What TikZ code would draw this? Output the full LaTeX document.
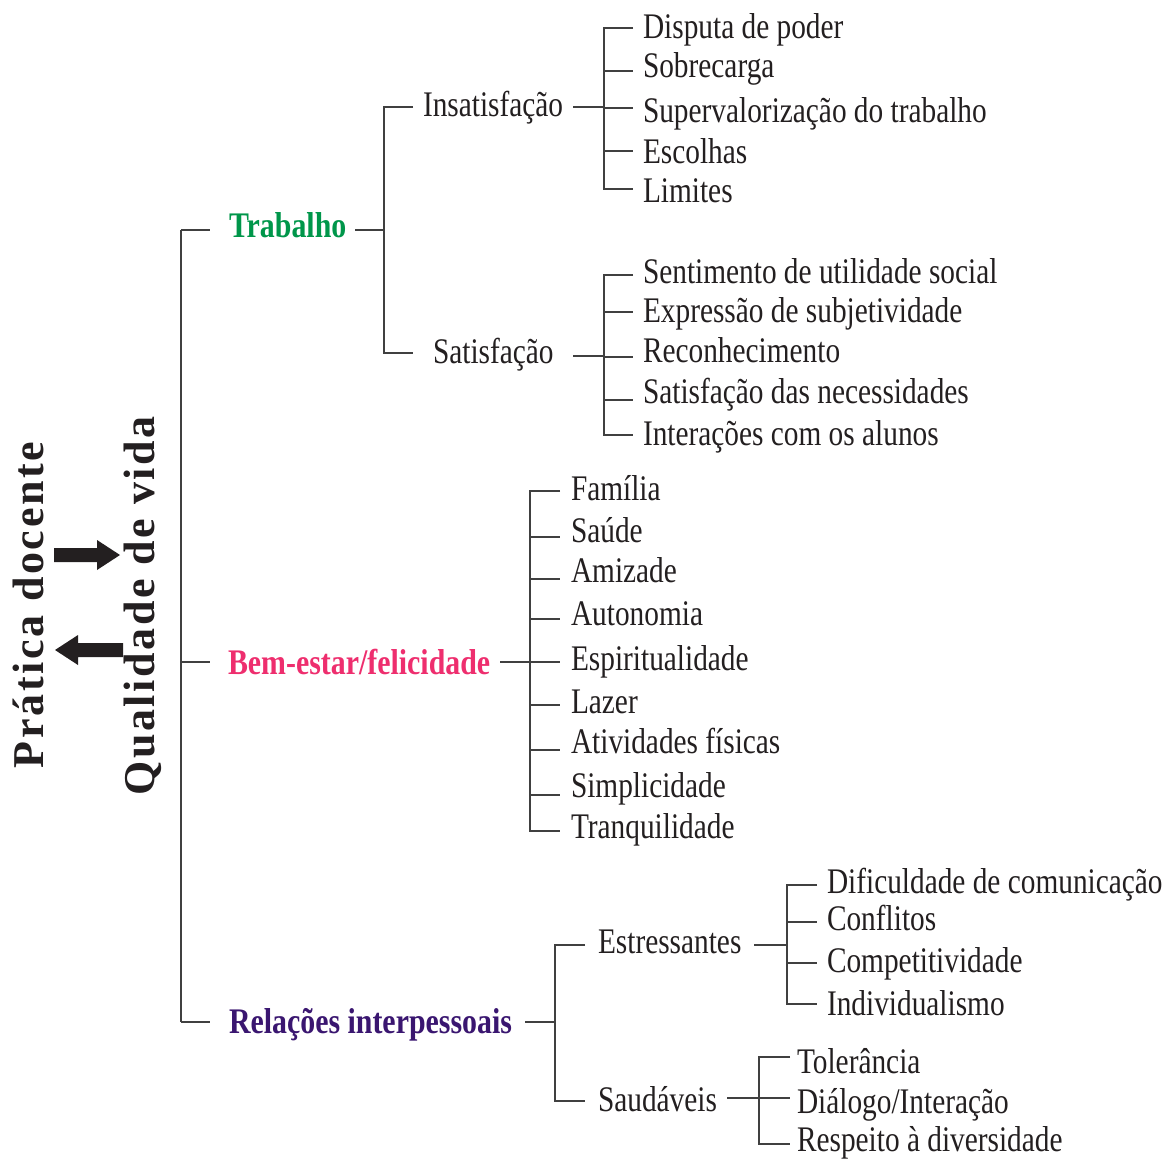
\documentclass[tikz,border=0pt]{standalone}
\usepackage{fontspec}
\setmainfont{Liberation Serif}[FakeStretch=0.815, BoldFeatures={FakeStretch=0.83}]
\newfontfamily\rotfont{Liberation Serif}[LetterSpace=6]
\definecolor{txt}{HTML}{231F20}
\definecolor{lncol}{HTML}{404040}
\definecolor{verde}{HTML}{00964A}
\definecolor{rosa}{HTML}{EE2E6E}
\definecolor{roxo}{HTML}{3A1670}
\tikzset{
  lbl/.style={anchor=base west, inner sep=0pt, outer sep=0pt, text=txt, font=\fontsize{36}{40}\selectfont},
  main/.style={lbl, font=\fontsize{36}{40}\selectfont\bfseries},
  rot/.style={anchor=base, rotate=90, inner sep=0pt, text=txt, font=\rotfont\fontsize{44}{48}\selectfont\bfseries},
  ln/.style={draw=lncol, line width=1.4pt},
  arr/.style={fill=txt, draw=none}
}
\begin{document}
\begin{tikzpicture}[x=1pt,y=-1pt]
\useasboundingbox (0,0) rectangle (1165,1160);
% rotated titles
\node[rot] (pd) at (43,605) {Prática docente};
\node[rot] (qv) at (154,606) {Qualidade de vida};
% arrows
\fill[arr] (54,548) -- (97,548) -- (97,540) -- (120,555) -- (97,570) -- (97,562) -- (54,562) -- cycle;
\fill[arr] (123,643) -- (78,643) -- (78,635) -- (55,650) -- (78,665) -- (78,657) -- (123,657) -- cycle;
% level 1
\node[main, text=verde] (trab) at (229,237) {Trabalho};
\node[main, text=rosa] (bem) at (228,674) {Bem-estar/felicidade};
\node[main, text=roxo] (rel) at (229,1033) {Relações interpessoais};
% level 2
\node[lbl] (insat) at (423,116) {Insatisfação};
\node[lbl] (sat) at (433,363) {Satisfação};
\node[lbl] (estr) at (598,953) {Estressantes};
\node[lbl] (saud) at (598,1111) {Saudáveis};
% Insatisfacao items
\node[lbl] (i1) at (643,38) {Disputa de poder};
\node[lbl] (i2) at (643,77) {Sobrecarga};
\node[lbl] (i3) at (643,122) {Supervalorização do trabalho};
\node[lbl] (i4) at (643,163) {Escolhas};
\node[lbl] (i5) at (643,202) {Limites};
% Satisfacao items
\node[lbl] (s1) at (643,283) {Sentimento de utilidade social};
\node[lbl] (s2) at (643,322) {Expressão de subjetividade};
\node[lbl] (s3) at (643,362) {Reconhecimento};
\node[lbl] (s4) at (643,403) {Satisfação das necessidades};
\node[lbl] (s5) at (643,445) {Interações com os alunos};
% Bem-estar items
\node[lbl] (b1) at (571,500) {Família};
\node[lbl] (b2) at (571,542) {Saúde};
\node[lbl] (b3) at (571,582) {Amizade};
\node[lbl] (b4) at (571,625) {Autonomia};
\node[lbl] (b5) at (571,670) {Espiritualidade};
\node[lbl] (b6) at (571,713) {Lazer};
\node[lbl] (b7) at (571,753) {Atividades físicas};
\node[lbl] (b8) at (571,797) {Simplicidade};
\node[lbl] (b9) at (571,838) {Tranquilidade};
% Estressantes items
\node[lbl] (e1) at (827,893) {Dificuldade de comunicação};
\node[lbl] (e2) at (827,930) {Conflitos};
\node[lbl] (e3) at (827,972) {Competitividade};
\node[lbl] (e4) at (827,1015) {Individualismo};
% Saudaveis items
\node[lbl] (h1) at (797,1073) {Tolerância};
\node[lbl] (h2) at (797,1113) {Diálogo/Interação};
\node[lbl] (h3) at (797,1151) {Respeito à diversidade};

% ---- connectors ----
% root bracket
\coordinate (r-top) at (181,230);
\coordinate (r-mid) at (181,662);
\coordinate (r-bot) at (181,1022);
\draw[ln] (r-top) -- (r-bot);
\draw[ln] (r-top) -- (210,230);
\draw[ln] (r-mid) -- (210,662);
\draw[ln] (r-bot) -- (210,1022);
% Trabalho bracket
\coordinate (t-sp) at (384,230);
\draw[ln] (355,230) -- (t-sp);
\draw[ln] (413,107) -- (384,107) -- (384,353) -- (413,353);
% Insatisfacao bracket
\draw[ln] (573,107) -- (604,107);
\draw[ln] (633,28) -- (604,28) -- (604,189) -- (633,189);
\foreach \yy in {71,108,151} \draw[ln] (604,\yy) -- (633,\yy);
% Satisfacao bracket
\draw[ln] (573,356) -- (604,356);
\draw[ln] (633,275) -- (604,275) -- (604,435) -- (633,435);
\foreach \yy in {312,357,400} \draw[ln] (604,\yy) -- (633,\yy);
% Bem-estar bracket
\draw[ln] (500,662) -- (530,662);
\draw[ln] (560,491) -- (530,491) -- (530,831) -- (560,831);
\foreach \yy in {537,579,619,662,705,750,795} \draw[ln] (530,\yy) -- (560,\yy);
% Relacoes bracket
\draw[ln] (525,1022) -- (555,1022);
\draw[ln] (585,945) -- (555,945) -- (555,1101) -- (585,1101);
% Estressantes bracket
\draw[ln] (754,945) -- (787,945);
\draw[ln] (817,885) -- (787,885) -- (787,1004) -- (817,1004);
\foreach \yy in {922,963} \draw[ln] (787,\yy) -- (817,\yy);
% Saudaveis bracket
\draw[ln] (727,1098) -- (759,1098);
\draw[ln] (790,1057) -- (759,1057) -- (759,1144) -- (790,1144);
\draw[ln] (759,1098) -- (790,1098);
\end{tikzpicture}
\end{document}
